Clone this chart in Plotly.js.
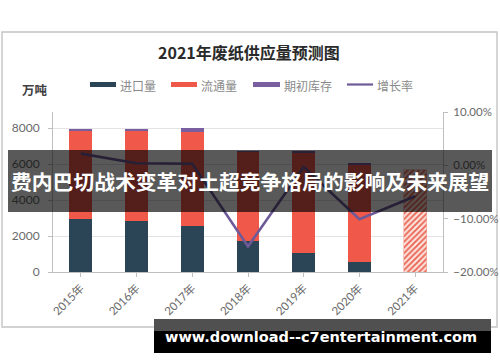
<!DOCTYPE html>
<html>
<head>
<meta charset="utf-8">
<script src="https://cdn.plot.ly/plotly-3.0.1.min.js"></script>
<style>
html,body{margin:0;padding:0;background:#fff;}
#chart{width:500px;height:362px;}
</style>
</head>
<body>
<div id="chart"></div>
<script>
// ---- data ----
const categories = ['2015年','2016年','2017年','2018年','2019年','2020年','2021年'];
const importVals = [2950, 2850, 2550, 1700, 1050, 550, null];
const circulationVals = [4900, 4980, 5250, 4950, 5570, 5400, null];
const stockVals = [120, 100, 200, 100, 100, 100, null];
const forecastVals = [null, null, null, null, null, null, 5670];
const growthVals = [0.022, 0.004, 0.003, -0.152, -0.003, -0.101, -0.058];
const seriesNames = ['进口量', '流通量', '期初库存', '增长率'];
const leftTicks = [0, 2000, 4000, 6000, 8000];
const rightTicks = [-0.2, -0.1, 0, 0.1];

// ---- layout helpers (pixel -> paper) ----
const L = 53, R = 443, T = 112, B = 272;
const px = x => (x - L) / (R - L);
const py = y => (B - y) / (B - T);

const cjk = '"Noto Sans CJK SC", sans-serif';
const num = 'Lato, "Noto Sans CJK SC", sans-serif';
const colImport = '#2b4557', colCirc = '#f0584a', colStock = '#7a5fa0', colLine = '#6f5a98';

const traces = [
  {type:'bar', name:seriesNames[0], x:categories, y:importVals, marker:{color:colImport}, width:0.41, showlegend:false, hoverinfo:'none'},
  {type:'bar', name:seriesNames[1], x:categories, y:circulationVals, marker:{color:colCirc}, width:0.41, showlegend:false, hoverinfo:'none'},
  {type:'bar', name:seriesNames[2], x:categories, y:stockVals, marker:{color:colStock}, width:0.41, showlegend:false, hoverinfo:'none'},
  {type:'bar', name:'2021预测', x:categories, y:forecastVals, width:0.41, showlegend:false, hoverinfo:'none',
   marker:{color:'#fbe2dc', line:{color:'#f2a396', width:0.6},
           pattern:{shape:'/', fgcolor:'#e9604f', bgcolor:'#fbe2dc', size:4, solidity:0.45}}},
  {type:'scatter', mode:'lines', name:seriesNames[3], x:categories, y:growthVals, yaxis:'y2',
   line:{color:colLine, width:2.6}, showlegend:false, hoverinfo:'none'}
];

const shapes = [
  // chart frame
  {type:'rect', xref:'paper', yref:'paper', x0:px(2), x1:px(497), y0:py(32), y1:py(327), line:{color:'#c4c4c4', width:1.4}, layer:'below'},
  // legend keys
  {type:'rect', xref:'paper', yref:'paper', x0:px(90), x1:px(116), y0:py(82), y1:py(87), fillcolor:colImport, line:{width:0}},
  {type:'rect', xref:'paper', yref:'paper', x0:px(171), x1:px(197), y0:py(82), y1:py(87), fillcolor:colCirc, line:{width:0}},
  {type:'rect', xref:'paper', yref:'paper', x0:px(253), x1:px(280), y0:py(82), y1:py(87), fillcolor:colStock, line:{width:0}},
  {type:'line', xref:'paper', yref:'paper', x0:px(347), x1:px(373), y0:py(84.5), y1:py(84.5), line:{color:colLine, width:2.2}},
  // overlay banner
  {type:'rect', xref:'paper', yref:'paper', x0:px(8), x1:px(492), y0:py(150), y1:py(212), fillcolor:'rgba(0,0,0,0.65)', line:{width:0}, layer:'above'},
  // bottom banner
  {type:'rect', xref:'paper', yref:'paper', x0:px(154), x1:px(491), y0:py(319), y1:py(331), fillcolor:'#505050', line:{width:0}, layer:'above'},
  {type:'rect', xref:'paper', yref:'paper', x0:px(154), x1:px(491), y0:py(331), y1:py(353), fillcolor:'#000000', line:{width:0}, layer:'above'}
];

const legendText = (t, x) => ({text:t, xref:'paper', yref:'paper', x:px(x), y:py(85), xanchor:'left', yanchor:'middle',
  showarrow:false, font:{family:cjk, size:12, color:'#8a8a8a'}});

const annotations = [
  {text:'<b>2021年废纸供应量预测图</b>', xref:'paper', yref:'paper', x:px(249), y:py(52), xanchor:'center', yanchor:'middle',
   showarrow:false, font:{family:cjk, size:16, color:'#2a2a2a'}},
  {text:'<b>万吨</b>', xref:'paper', yref:'paper', x:px(35), y:py(89), xanchor:'center', yanchor:'middle',
   showarrow:false, font:{family:cjk, size:12.5, color:'#404040'}},
  legendText(seriesNames[0], 118),
  legendText(seriesNames[1], 199),
  legendText(seriesNames[2], 282),
  legendText(seriesNames[3], 375),
  {text:'<b>费内巴切战术变革对土超竞争格局的影响及未来展望</b>', xref:'paper', yref:'paper', x:px(250), y:py(181), xanchor:'center', yanchor:'middle',
   showarrow:false, font:{family:cjk, size:20.8, color:'#ffffff'}},
  {text:'<b>www.download--c7entertainment.com</b>', xref:'paper', yref:'paper', x:px(321), y:py(337), xanchor:'center', yanchor:'middle',
   showarrow:false, font:{family:'"DejaVu Sans", sans-serif', size:14.5, color:'#ffffff'}}
];

const layout = {
  width:500, height:362,
  margin:{l:L, r:500-R, t:T, b:362-B, pad:0},
  paper_bgcolor:'#ffffff', plot_bgcolor:'#ffffff',
  barmode:'stack',
  showlegend:false,
  xaxis:{type:'category', range:[-0.5, 6.5], tickangle:-45, ticks:'outside', ticklen:4, tickcolor:'#bfbfbf',
         showline:true, linecolor:'#bfbfbf', linewidth:1, showgrid:false, zeroline:false,
         tickfont:{family:num, size:11.5, color:'#6a6a6a'}},
  yaxis:{range:[0, 8890], tickvals:leftTicks, ticks:'outside', ticklen:4, tickcolor:'#bfbfbf',
         showline:true, linecolor:'#bfbfbf', linewidth:1, showgrid:true, gridcolor:'#e3e3e3', gridwidth:1,
         zeroline:false, ticklabelstandoff:6, tickfont:{family:num, size:12, color:'#6a6a6a'}},
  yaxis2:{overlaying:'y', side:'right', range:[-0.2, 0.1], tickvals:rightTicks, tickformat:'.2%',
          ticks:'outside', ticklen:4, tickcolor:'#bfbfbf', showline:true, linecolor:'#bfbfbf', linewidth:1,
          showgrid:false, zeroline:false, ticklabelstandoff:3, tickfont:{family:num, size:11.5, color:'#6a6a6a'}},
  shapes:shapes,
  annotations:annotations
};

Plotly.newPlot('chart', traces, layout, {staticPlot:true, displayModeBar:false});
</script>
</body>
</html>
